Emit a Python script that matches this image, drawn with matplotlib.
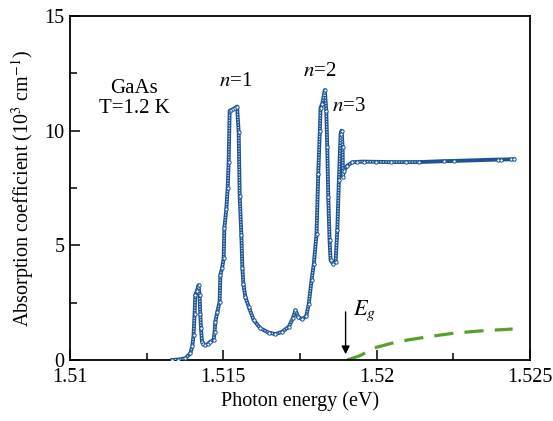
import numpy as np
import matplotlib
matplotlib.use("Agg")
import matplotlib.pyplot as plt
from matplotlib.ticker import MultipleLocator

plt.rcParams["font.family"] = ["Liberation Serif", "DejaVu Serif"]
plt.rcParams["mathtext.fontset"] = "stix"

# absorption spectrum of GaAs at 1.2 K (energy in eV, alpha in 10^3 cm^-1)
energy = [
    1.513333, 1.513529, 1.513758, 1.513922, 1.513987, 1.514029, 1.514062,
    1.514085, 1.514134, 1.514193, 1.514225, 1.514248, 1.514271, 1.514304,
    1.514346, 1.514412, 1.514493, 1.514575, 1.514683, 1.514712, 1.514739,
    1.514804, 1.514879, 1.514902, 1.514958, 1.515010, 1.515033, 1.515098,
    1.515141, 1.515173, 1.515206, 1.515261, 1.515327, 1.515392, 1.515448,
    1.515500, 1.515533, 1.515588, 1.515621, 1.515654, 1.515719, 1.515827,
    1.515990, 1.516209, 1.516480, 1.516699, 1.516918, 1.517134, 1.517265,
    1.517353, 1.517441, 1.517572, 1.517703, 1.517788, 1.517876, 1.517951,
    1.518039, 1.518095, 1.518147, 1.518170, 1.518225, 1.518310, 1.518356,
    1.518389, 1.518422, 1.518464, 1.518497, 1.518572, 1.518660, 1.518716,
    1.518768, 1.518824, 1.518856, 1.518889, 1.518899, 1.518931, 1.519042,
    1.519206, 1.519369, 1.519585, 1.519967, 1.520458, 1.520948, 1.521373,
    1.522190, 1.522516, 1.523944, 1.524050, 1.524370, 1.524480,
]
alpha = [
    0.00, 0.02, 0.07, 0.29, 0.60, 1.09, 2.00,
    2.83, 3.00, 3.26, 2.83, 2.00, 1.39, 0.80,
    0.70, 0.65, 0.70, 0.80, 0.87, 1.20, 1.67,
    2.10, 2.54, 3.70, 4.00, 4.43, 5.74, 6.60,
    7.48, 8.62, 10.87, 10.90, 10.95, 11.00, 11.05,
    9.93, 7.17, 5.43, 4.00, 3.30, 2.75, 2.32,
    1.74, 1.38, 1.19, 1.13, 1.23, 1.45, 1.81,
    2.17, 1.88, 1.78, 1.91, 2.46, 3.48, 4.20,
    5.50, 8.12, 10.00, 11.00, 11.16, 11.77, 10.87,
    9.28, 7.10, 5.22, 4.35, 4.20, 4.27, 5.65,
    7.83, 9.86, 10.00, 9.28, 8.00, 8.26, 8.48,
    8.62, 8.64, 8.65, 8.64, 8.63, 8.63, 8.63,
    8.67, 8.68, 8.74, 8.74, 8.75, 8.75,
]

# band-to-band absorption without excitonic effects
band_energy = [1.519042, 1.519477, 1.519902, 1.520458, 1.521003,
               1.521765, 1.522516, 1.523399, 1.524435]
band_alpha = [0.00, 0.20, 0.52, 0.72, 0.87, 1.03, 1.17, 1.27, 1.35]

gap_energy = 1.518987

blue = "#1c5393"
green = "#5a9e2b"

fig = plt.figure(figsize=(5.53, 4.21), dpi=100)
ax = fig.add_axes([0.1266, 0.1449, 0.8318, 0.8171])

ax.plot(energy, alpha, color=blue, lw=2.8, solid_joinstyle="round", zorder=3)
dense = np.array(energy) < 1.5214
ax.plot(np.array(energy)[dense], np.array(alpha)[dense], color="#d8e3f0",
        lw=0.9, ls=(0, (1, 1.1)), zorder=4)
ax.plot(energy, alpha, ls="none", marker="o", ms=2.4, mfc="white", mec=blue,
        mew=0.7, zorder=5)

ax.plot(band_energy, band_alpha, color=green, lw=2.3, ls=(0, (6, 3.5)), zorder=2)

ax.annotate("", xy=(gap_energy, 0.25), xytext=(gap_energy, 2.1),
            arrowprops=dict(arrowstyle="-|>", color="black", lw=1.0,
                            mutation_scale=12, shrinkA=0, shrinkB=0))
ax.text(1.51922, 1.95, r"$E_g$", fontsize=16, ha="left", va="baseline")

ax.text(1.51209, 11.83, "GaAs", fontsize=15, ha="center", va="center")
ax.text(1.51209, 10.96, "T=1.2 K", fontsize=15, ha="center", va="center")
ax.text(1.51539, 12.13, r"$n$=1", fontsize=15, ha="center", va="center")
ax.text(1.51814, 12.60, r"$n$=2", fontsize=15, ha="center", va="center")
ax.text(1.51909, 11.04, r"$n$=3", fontsize=15, ha="center", va="center")

ax.set_xlim(1.51, 1.525)
ax.set_ylim(0, 15)
ax.set_xticks([1.51, 1.515, 1.52, 1.525])
ax.set_xticklabels(["1.51", "1.515", "1.52", "1.525"])
ax.set_yticks([0, 5, 10, 15])
ax.xaxis.set_minor_locator(MultipleLocator(0.0025))
ax.yaxis.set_minor_locator(MultipleLocator(2.5))
ax.tick_params(which="both", direction="in", top=False, right=False,
               labelsize=14.5, width=1.1, pad=4)
ax.tick_params(axis="x", which="major", pad=6)
ax.tick_params(which="major", length=7)
ax.tick_params(which="minor", length=5)
for s in ax.spines.values():
    s.set_linewidth(1.3)

ax.set_xlabel("Photon energy (eV)", fontsize=14.5, labelpad=3)
ax.set_ylabel(r"Absorption coefficient (10$^3$ cm$^{-1}$)", fontsize=14.5,
              labelpad=6)

fig.savefig("out.png", dpi=100)
